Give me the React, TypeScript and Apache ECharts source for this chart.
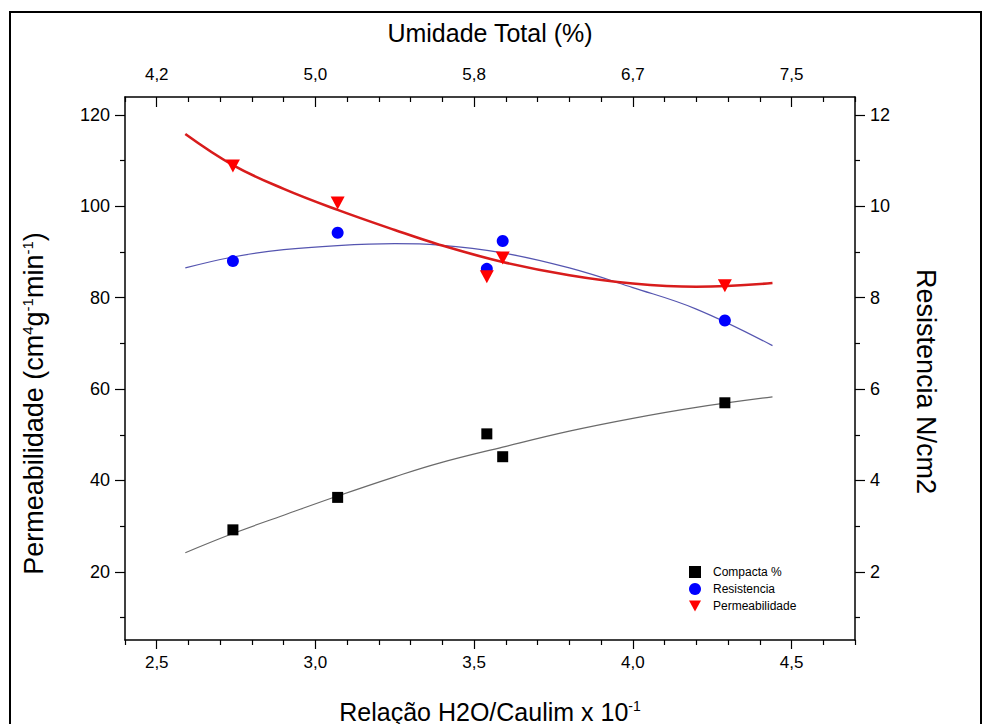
import React, { useEffect, useRef } from 'react';
import * as echarts from 'echarts';

// Measured points (x = Relação H2O/Caulim x 10^-1)
const xPoints = [2.74, 3.07, 3.54, 3.59, 4.29];
const compacta = [29.2, 36.3, 50.2, 45.2, 57.0];
const resistencia = [8.8, 9.42, 8.63, 9.24, 7.5];
const permeabilidade = [108.8, 100.7, 84.6, 88.7, 82.6];

// Fitted curves
const fitX = [2.59, 2.74, 2.9, 3.07, 3.25, 3.39, 3.59, 3.8, 4.0, 4.2, 4.44];
const compactaFit = [24.2, 28.4, 32.4, 36.6, 40.8, 43.8, 47.3, 50.8, 53.6, 56.0, 58.3];
const resistenciaFit = [8.65, 8.89, 9.05, 9.14, 9.18, 9.15, 8.98, 8.65, 8.22, 7.75, 6.95];
const permeabilidadeFit = [115.8, 109.0, 103.8, 99.2, 94.8, 91.6, 87.8, 84.9, 83.1, 82.4, 83.2];

// Axis ticks
const xMajor = [2.5, 3.0, 3.5, 4.0, 4.5];
const xMinor = [2.4, 2.6, 2.7, 2.8, 2.9, 3.1, 3.2, 3.3, 3.4, 3.6, 3.7, 3.8, 3.9, 4.1, 4.2, 4.3, 4.4, 4.6, 4.7];
const bottomTickLabels = ['2,5', '3,0', '3,5', '4,0', '4,5'];
const topTickLabels = ['4,2', '5,0', '5,8', '6,7', '7,5'];
const leftMajor = [20, 40, 60, 80, 100, 120];
const leftMinor = [10, 30, 50, 70, 90, 110];
const rightMajor = [2, 4, 6, 8, 10, 12];
const rightMinor = [1, 3, 5, 7, 9, 11];

const seriesNames = ['Compacta %', 'Resistencia', 'Permeabilidade'];

const X_MIN = 2.4;
const X_MAX = 4.7;
const YL_MIN = 5.1;
const YL_MAX = 123.9;
const YR_MIN = 0.51;
const YR_MAX = 12.39;

const ARIAL = "'Liberation Sans', Arial, sans-serif";
const DOWN_TRI = 'path://M0,0L10,0L5,9Z';

const pairs = (xs: number[], ys: number[]) => xs.map((x, i) => [x, ys[i]]);

export default function App() {
  const ref = useRef<HTMLDivElement>(null);

  useEffect(() => {
    if (!ref.current) return;
    const chart = echarts.init(ref.current, undefined, { renderer: 'svg' });

    const xBase = (pos: 'top' | 'bottom', ticks: number[], len: number, inside: boolean, extra: any) => ({
      type: 'value',
      position: pos,
      min: X_MIN,
      max: X_MAX,
      axisLine: { show: true, lineStyle: { color: '#000', width: 1.5 } },
      axisTick: { show: true, customValues: ticks, length: len, inside, lineStyle: { color: '#000', width: 1.2 } },
      splitLine: { show: false },
      ...extra,
    });
    const yBase = (pos: 'left' | 'right', min: number, max: number, ticks: number[], len: number, extra: any) => ({
      type: 'value',
      position: pos,
      min,
      max,
      axisLine: { show: true, lineStyle: { color: '#000', width: 1.5 } },
      axisTick: { show: true, customValues: ticks, length: len, inside: false, lineStyle: { color: '#000', width: 1.2 } },
      splitLine: { show: false },
      ...extra,
    });

    const option: any = {
      animation: false,
      backgroundColor: '#fff',
      grid: { left: 125, right: 129, top: 97, bottom: 84, containLabel: false, outerBoundsMode: 'none' },
      graphic: [
        {
          type: 'rect',
          shape: { x: 10, y: 12, width: 971, height: 740 },
          style: { fill: 'none', stroke: '#000', lineWidth: 2 },
          silent: true,
        },
      ],
      legend: {
        show: true,
        orient: 'vertical',
        left: 684,
        top: 561,
        itemWidth: 12,
        itemHeight: 12,
        itemGap: 5,
        textStyle: { fontSize: 12, fontFamily: ARIAL, color: '#000', padding: [0, 0, 0, 7] },
        data: [
          { name: seriesNames[0], icon: 'rect' },
          { name: seriesNames[1], icon: 'circle' },
          { name: seriesNames[2], icon: DOWN_TRI },
        ],
      },
      xAxis: [
        xBase('bottom', xMajor, 9, false, {
          name: '{a|Relação H2O/Caulim x 10}{s|-1}',
          nameLocation: 'middle',
          nameGap: 59,
          nameTextStyle: {
            rich: {
              a: { fontSize: 25, fontFamily: ARIAL, color: '#000' },
              s: { fontSize: 14, fontFamily: ARIAL, color: '#000', verticalAlign: 'top' },
            },
          },
          axisLabel: {
            show: true,
            customValues: xMajor,
            margin: 14,
            fontSize: 17,
            fontFamily: ARIAL,
            color: '#000',
            formatter: (v: number) => {
              const i = xMajor.findIndex((m) => Math.abs(m - v) < 1e-6);
              return i >= 0 ? bottomTickLabels[i] : '';
            },
          },
        }),
        xBase('top', xMajor, 10, true, {
          name: 'Umidade Total (%)',
          nameLocation: 'middle',
          nameGap: 52,
          nameTextStyle: { fontSize: 25, fontFamily: ARIAL, color: '#000' },
          axisLabel: {
            show: true,
            customValues: xMajor,
            margin: 14,
            fontSize: 17,
            fontFamily: ARIAL,
            color: '#000',
            formatter: (v: number) => {
              const i = xMajor.findIndex((m) => Math.abs(m - v) < 1e-6);
              return i >= 0 ? topTickLabels[i] : '';
            },
          },
        }),
        xBase('bottom', xMinor, 5, false, { axisLine: { show: false }, axisLabel: { show: false } }),
        xBase('top', xMinor, 5, true, { axisLine: { show: false }, axisLabel: { show: false } }),
      ],
      yAxis: [
        yBase('left', YL_MIN, YL_MAX, leftMajor, 10, {
          name: '{a|Permeabilidade (cm}{s|4}{a|g}{s|-1}{a|min}{s|-1}{a|)}',
          nameLocation: 'middle',
          nameRotate: 90,
          nameGap: 78,
          nameTextStyle: {
            padding: [0, 70, 0, 0],
            rich: {
              a: { fontSize: 27, fontFamily: ARIAL, color: '#000' },
              s: { fontSize: 15, fontFamily: ARIAL, color: '#000', verticalAlign: 'top' },
            },
          },
          axisLabel: {
            show: true,
            customValues: leftMajor,
            margin: 15,
            fontSize: 18,
            fontFamily: ARIAL,
            color: '#000',
          },
        }),
        yBase('right', YR_MIN, YR_MAX, rightMajor, 10, {
          name: 'Resistencia N/cm2',
          nameLocation: 'middle',
          nameRotate: -90,
          nameGap: 57,
          nameTextStyle: { fontSize: 27, fontFamily: ARIAL, color: '#000', padding: [0, 0, 0, 26] },
          axisLabel: {
            show: true,
            customValues: rightMajor,
            margin: 15,
            fontSize: 18,
            fontFamily: ARIAL,
            color: '#000',
          },
        }),
        yBase('left', YL_MIN, YL_MAX, leftMinor, 5, { axisLine: { show: false }, axisLabel: { show: false } }),
        yBase('right', YR_MIN, YR_MAX, rightMinor, 5, { axisLine: { show: false }, axisLabel: { show: false } }),
      ],
      series: [
        {
          name: 'fitCompacta',
          type: 'line',
          xAxisIndex: 0,
          yAxisIndex: 0,
          data: pairs(fitX, compactaFit),
          smooth: 0.4,
          symbol: 'none',
          lineStyle: { color: '#6a6a6a', width: 1.2 },
          z: 2,
        },
        {
          name: 'fitResistencia',
          type: 'line',
          xAxisIndex: 0,
          yAxisIndex: 1,
          data: pairs(fitX, resistenciaFit),
          smooth: 0.4,
          symbol: 'none',
          lineStyle: { color: '#5555b0', width: 1.2 },
          z: 2,
        },
        {
          name: 'fitPermeabilidade',
          type: 'line',
          xAxisIndex: 0,
          yAxisIndex: 0,
          data: pairs(fitX, permeabilidadeFit),
          smooth: 0.4,
          symbol: 'none',
          lineStyle: { color: '#d81c1c', width: 2.6 },
          z: 2,
        },
        {
          name: seriesNames[0],
          type: 'scatter',
          xAxisIndex: 0,
          yAxisIndex: 0,
          data: pairs(xPoints, compacta),
          symbol: 'rect',
          symbolSize: 11,
          itemStyle: { color: '#000', opacity: 1 },
          z: 5,
        },
        {
          name: seriesNames[1],
          type: 'scatter',
          xAxisIndex: 0,
          yAxisIndex: 1,
          data: pairs(xPoints, resistencia),
          symbol: 'circle',
          symbolSize: 12,
          itemStyle: { color: '#0000ff', opacity: 1 },
          z: 5,
        },
        {
          name: seriesNames[2],
          type: 'scatter',
          xAxisIndex: 0,
          yAxisIndex: 0,
          data: pairs(xPoints, permeabilidade),
          symbol: DOWN_TRI,
          symbolSize: [14, 13],
          itemStyle: { color: '#ff0000', opacity: 1 },
          z: 6,
        },
      ],
    };

    chart.setOption(option);
    return () => chart.dispose();
  }, []);

  return (
    <div
      ref={ref}
      style={{ position: 'absolute', left: 0, top: 0, width: 984, height: 724, background: '#fff' }}
    />
  );
}
